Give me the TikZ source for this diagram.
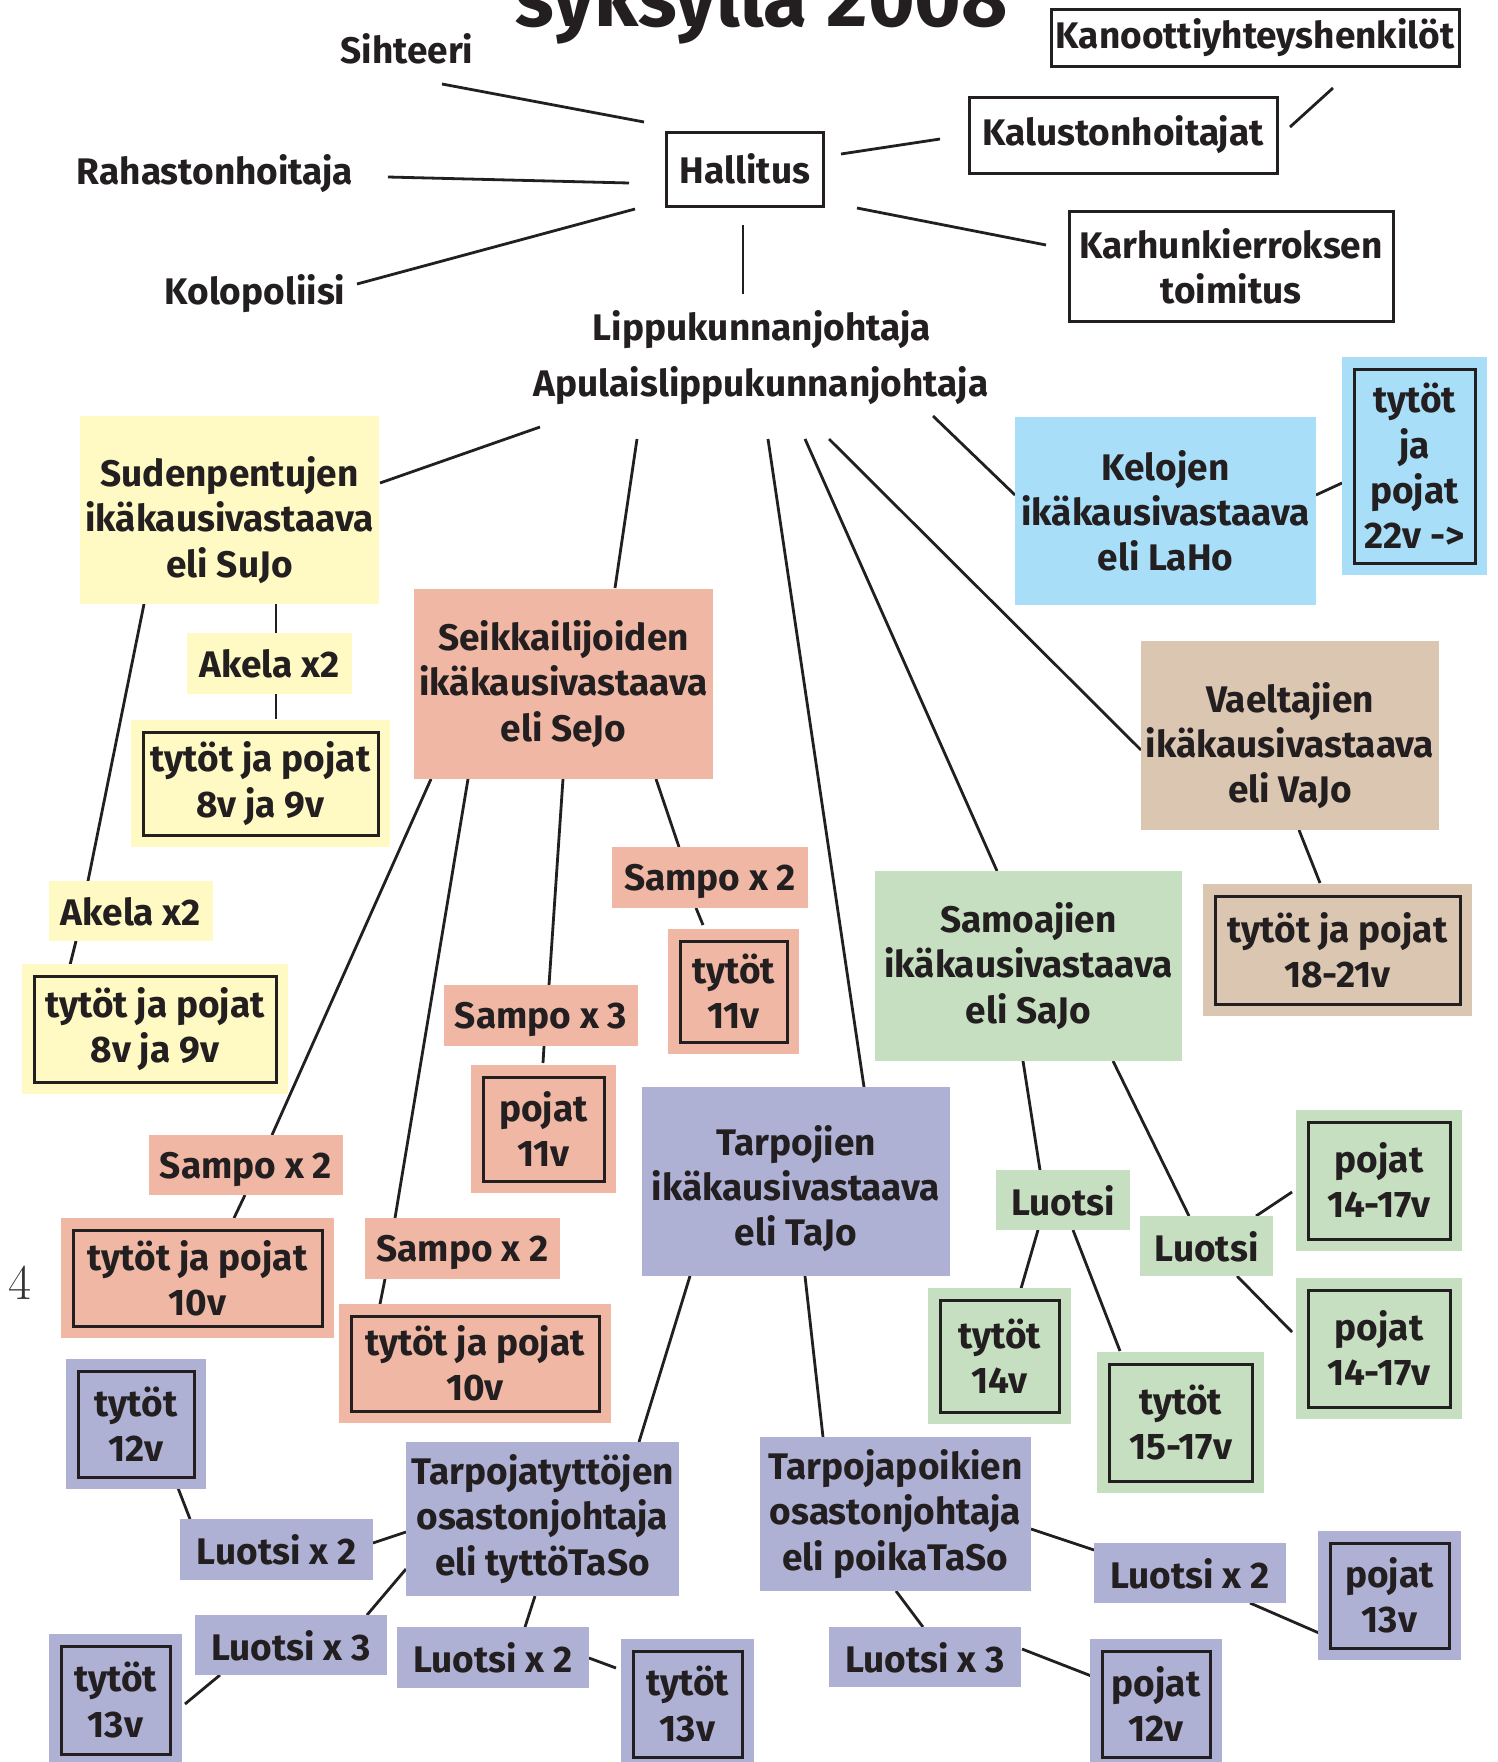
\documentclass[tikz,border=0pt]{standalone}
\usepackage{fontspec}
\setmainfont{Fira Sans}
\newfontfamily\lmr{Latin Modern Roman}
\usetikzlibrary{calc}
\pgfdeclarelayer{back}
\pgfdeclarelayer{bg}
\pgfsetlayers{back,bg,main}
\definecolor{ink}{HTML}{231F20}
\definecolor{yel}{HTML}{FFF9C4}
\definecolor{sal}{HTML}{F0B8A4}
\definecolor{blu}{HTML}{A8DEF8}
\definecolor{tan}{HTML}{DBC6B2}
\definecolor{grn}{HTML}{C6DFC1}
\definecolor{lav}{HTML}{AEB0D4}
\newcommand\lk[4]{\draw[conn] ($(#1)+(#2)$) -- ($(#3)+(#4)$);}
\tikzset{
  every node/.style={text=ink, font=\bfseries\fontsize{18.5}{22.6}\selectfont, inner sep=0pt, align=center},
  conn/.style={draw=ink, line width=1.4pt},
  lbl/.style={anchor=base},
  topbox/.style={draw=ink, line width=1.5pt, fill=white},
  fbox/.style={fill=#1},
  tag/.style={fill=#1, text depth=0pt},
  dbl/.style={fill=#1, draw=ink, line width=1.5pt, preaction={draw=#1, line width=12pt, line join=miter}},
  sz/.style 2 args={minimum width=#1pt, minimum height=#2pt}
}
\begin{document}
\begin{tikzpicture}[x=0.5pt,y=-0.5pt]
\useasboundingbox (0,0) rectangle (1498,1762);
\begin{pgfonlayer}{back}
\fill[white] (0,0) rectangle (1498,1762);
\end{pgfonlayer}

% title and stray page number
\node[anchor=base, font=\bfseries\fontsize{40}{40}\selectfont] (ttl) at (762,26) {syksyllä 2008};
\node[anchor=base, font=\lmr\fontsize{25}{25}\selectfont, text=black!80] (pg) at (20,1299) {4};

% top section
\node[lbl] (sih) at (407,63) {Sihteeri};
\node[lbl] (rah) at (215,184) {Rahastonhoitaja};
\node[lbl] (kol) at (255,304) {Kolopoliisi};
\node[lbl] (lip) at (762,340) {Lippukunnanjohtaja};
\node[lbl] (apu) at (761,396) {Apulaislippukunnanjohtaja};
\node[topbox, sz={78.5}{37}] (hal) at (745,169) {Hallitus};
\node[topbox, sz={154}{38}] (kal) at (1123,135) {Kalustonhoitajat};
\node[topbox, sz={204}{28.5}] (kan) at (1255,37.5) {Kanoottiyhteyshenkilöt};
\node[topbox, sz={162}{55}] (kar) at (1231,266) {Karhunkierroksen\\toimitus};

% age group leaders
\node[fbox=yel, sz={149.5}{94}, label={[yshift=-5pt]center:{Sudenpentujen\\ikäkausivastaava\\eli SuJo}}] (suj) at (229.5,510) {};
\node[fbox=sal, sz={149.5}{95}] (sej) at (563.5,684) {Seikkailijoiden\\ikäkausivastaava\\eli SeJo};
\node[fbox=blu, sz={150.5}{94}] (kel) at (1165.5,511) {Kelojen\\ikäkausivastaava\\eli LaHo};
\node[fbox=tan, sz={149}{94.5}, label={[yshift=-5pt]center:{Vaeltajien\\ikäkausivastaava\\eli VaJo}}] (vaj) at (1290,735.5) {};
\node[fbox=grn, sz={153.5}{95}] (saj) at (1028.5,966) {Samoajien\\ikäkausivastaava\\eli SaJo};
\node[fbox=lav, sz={154}{94.5}, label={[yshift=-3.5pt]center:{Tarpojien\\ikäkausivastaava\\eli TaJo}}] (taj) at (796,1181.5) {};
\node[fbox=lav, sz={136.5}{77}] (tt) at (542.5,1519) {Tarpojatyttöjen\\osastonjohtaja\\eli tyttöTaSo};
\node[fbox=lav, sz={135.5}{77}] (pt) at (895.5,1514) {Tarpojapoikien\\osastonjohtaja\\eli poikaTaSo};

% leader labels
\node[tag=yel, sz={82.5}{30.5}] (ak1) at (269.5,663.5) {Akela x2};
\node[tag=yel, sz={82}{30}] (ak2) at (131,911) {Akela x2};
\node[tag=sal, sz={98}{30.5}] (sA) at (710,877.5) {Sampo x 2};
\node[tag=sal, sz={97}{30.5}] (s3) at (541,1015.5) {Sampo x 3};
\node[tag=sal, sz={97}{30}] (sB) at (246,1165) {Sampo x 2};
\node[tag=sal, sz={97.5}{30.5}] (sC) at (462.5,1248.5) {Sampo x 2};
\node[tag=grn, sz={67}{30}] (lL) at (1063,1200) {Luotsi};
\node[tag=grn, sz={66.5}{30}] (lR) at (1206.5,1246) {Luotsi};
\node[tag=lav, sz={96.5}{30.5}] (lx2a) at (276.5,1549.5) {Luotsi x 2};
\node[tag=lav, sz={96}{30}] (lx3a) at (291,1645) {Luotsi x 3};
\node[tag=lav, sz={96}{30.5}] (lx2b) at (493,1657.5) {Luotsi x 2};
\node[tag=lav, sz={96}{30}] (lx2c) at (1190,1573) {Luotsi x 2};
\node[tag=lav, sz={96}{30}] (lx3b) at (925,1657) {Luotsi x 3};

% groups
\node[dbl=yel, sz={117.5}{51.5}] (y8a) at (260.5,783.5) {tytöt ja pojat\\8v ja 9v};
\node[dbl=yel, sz={121}{53}] (y8b) at (155,1029) {tytöt ja pojat\\8v ja 9v};
\node[dbl=sal, sz={53.5}{50.5}] (t11) at (733.5,991.5) {tytöt\\11v};
\node[dbl=sal, sz={60.5}{52}] (p11) at (543.5,1129) {pojat\\11v};
\node[dbl=sal, sz={124.5}{48}] (t10a) at (197.5,1278) {tytöt ja pojat\\10v};
\node[dbl=sal, sz={124}{47.5}] (t10b) at (475,1363.5) {tytöt ja pojat\\10v};
\node[dbl=lav, sz={58}{53}] (t12) at (136,1424) {tytöt\\12v};
\node[dbl=lav, sz={54.5}{54}] (t13a) at (115.5,1700) {tytöt\\13v};
\node[dbl=lav, sz={54.5}{53}] (t13b) at (687.5,1704) {tytöt\\13v};
\node[dbl=lav, sz={54}{53}] (p12) at (1156,1704) {pojat\\12v};
\node[dbl=lav, sz={59.5}{52.5}] (p13) at (1389.5,1595.5) {pojat\\13v};
\node[dbl=grn, sz={59.5}{56}] (t14) at (999.5,1356) {tytöt\\14v};
\node[dbl=grn, sz={71.5}{58.5}] (t1517) at (1180.5,1422.5) {tytöt\\15-17v};
\node[dbl=grn, sz={71}{58.5}] (p1417a) at (1379,1180.5) {pojat\\14-17v};
\node[dbl=grn, sz={71}{58.5}] (p1417b) at (1379,1348.5) {pojat\\14-17v};
\node[dbl=tan, sz={122.5}{54}] (y1821) at (1337.5,950) {tytöt ja pojat\\18-21v};
\node[dbl=blu, sz={60.5}{97}] (t22) at (1414.5,466) {tytöt\\ja\\pojat\\22v ->};

\begin{pgfonlayer}{bg}
% top
\lk{sih.base}{35,21}{hal}{-101,-47}
\lk{rah.base}{173,-7}{hal}{-116,14}
\lk{kol.base}{102,-20}{hal}{-110,40}
\lk{hal}{-2,56}{lip.base}{-19,-46}
\lk{hal}{96,-15}{kal}{-183,4}
\lk{kal}{167,-8}{kan}{78,50.5}
\lk{hal}{112,39}{kar}{-185,-21}
% from leaders
\lk{apu.base}{-221,31}{suj}{150.5,-27}
\lk{apu.base}{-124,43}{sej}{51.5,-96}
\lk{apu.base}{7,43}{taj}{68,-94.5}
\lk{apu.base}{44,43}{saj}{-31.5,-95}
\lk{apu.base}{68,43}{vaj}{-149,14.5}
\lk{apu.base}{172,20}{kel}{-150.5,-16}
\lk{kel}{150.5,-16}{t22}{-72.5,17}
% SuJo
\lk{suj}{46.5,94}{ak1}{6.5,-30.5}
\lk{ak1}{6.5,30.5}{y8a}{15.5,-64.5}
\lk{suj}{-85.5,94}{ak2}{-43,-30}
\lk{ak2}{-55,30}{y8b}{-85,-64}
% SeJo
\lk{sej}{-132.5,95}{sB}{26,-30}
\lk{sB}{-1,30}{t10a}{36.5,-60}
\lk{sej}{-95.5,95}{sC}{-67.5,-30.5}
\lk{sC}{-77.5,30.5}{t10b}{-95,-59.5}
\lk{sej}{-0.5,95}{s3}{8,-30.5}
\lk{s3}{3,30.5}{p11}{-0.5,-66}
\lk{sej}{92.5,95}{sA}{-31,-30.5}
\lk{sA}{-14,30.5}{t11}{-30.5,-66.5}
% VaJo
\lk{vaj}{9,94.5}{y1821}{-17.5,-67}
% SaJo
\lk{saj}{-5.5,95}{lL}{-23,-30}
\lk{saj}{84.5,95}{lR}{-17.5,-30}
\lk{lL}{-25,30}{t14}{20.5,-64}
\lk{lL}{10,30}{t1517}{-60.5,-71.5}
\lk{lR}{49.5,-30}{p1417a}{-87,11.5}
\lk{lR}{30.5,30}{p1417b}{-87,-16.5}
% TaJo
\lk{taj}{-106,94.5}{tt}{96.5,-77}
\lk{taj}{9,94.5}{pt}{-72.5,-77}
\lk{t12}{42,64}{lx2a}{-86.5,-30.5}
\lk{lx2a}{96.5,-6.5}{tt}{-136.5,13}
\lk{tt}{-136.5,50}{lx3a}{76,-30}
\lk{lx3a}{-71,30}{t13a}{69.5,4}
\lk{tt}{-7.5,77}{lx2b}{32,-30.5}
\lk{lx2b}{96,0.5}{t13b}{-71.5,-36}
\lk{pt}{135.5,15}{lx2c}{-96,-23}
\lk{lx2c}{60,30}{p13}{-70.5,37.5}
\lk{pt}{0.5,77}{lx3b}{-2,-30}
\lk{lx3b}{97,-8}{p12}{-62,-27}
\end{pgfonlayer}
\end{tikzpicture}
\end{document}
